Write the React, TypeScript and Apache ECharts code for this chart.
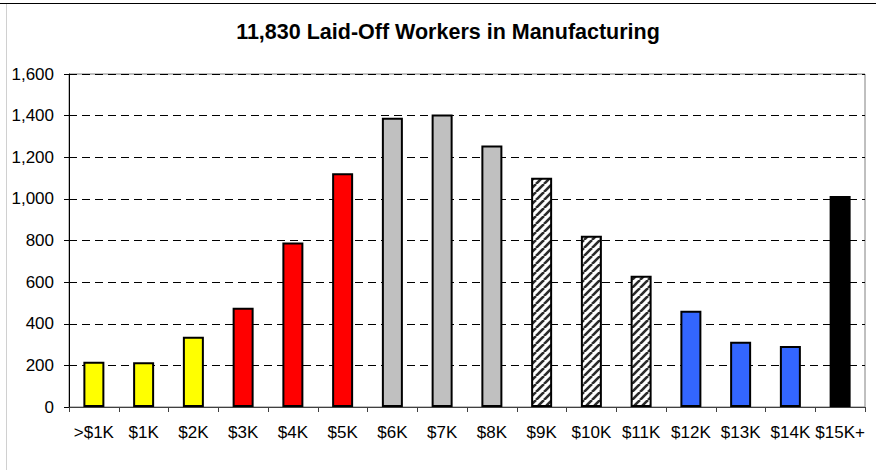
import React, { useEffect, useRef } from "react";
import * as echarts from "echarts";

const titleText = "11,830 Laid-Off Workers in Manufacturing";
const categories = [">$1K", "$1K", "$2K", "$3K", "$4K", "$5K", "$6K", "$7K", "$8K", "$9K", "$10K", "$11K", "$12K", "$13K", "$14K", "$15K+"];
const values = [218, 215, 338, 477, 790, 1123, 1390, 1406, 1256, 1102, 823, 631, 463, 314, 293, 1014];
const barFills = ["#FFFF00", "#FFFF00", "#FFFF00", "#FF0000", "#FF0000", "#FF0000", "#C0C0C0", "#C0C0C0", "#C0C0C0", "hatch", "hatch", "hatch", "#3366FF", "#3366FF", "#3366FF", "#000000"];
const yTicks = [0, 200, 400, 600, 800, 1000, 1200, 1400, 1600];

function makeHatch(): HTMLCanvasElement {
  const s = 8;
  const c = document.createElement("canvas");
  c.width = s;
  c.height = s;
  const ctx = c.getContext("2d")!;
  ctx.fillStyle = "#ffffff";
  ctx.fillRect(0, 0, s, s);
  ctx.strokeStyle = "#2a2a2a";
  ctx.lineWidth = 2.6;
  for (const k of [-s, 0, s]) {
    ctx.beginPath();
    ctx.moveTo(k, s);
    ctx.lineTo(k + s, 0);
    ctx.stroke();
  }
  return c;
}

export default function App() {
  const ref = useRef<HTMLDivElement>(null);
  useEffect(() => {
    if (!ref.current) return;
    const chart = echarts.init(ref.current, undefined, { renderer: "svg" });
    const hatch = makeHatch();
    const fmt = (v: number) => v.toLocaleString("en-US");
    chart.setOption({
      animation: false,
      backgroundColor: "#ffffff",
      textStyle: { fontFamily: "'Liberation Sans', Arial, sans-serif" },
      grid: {
        left: 69,
        right: 11,
        top: 74,
        bottom: 63,
        show: true,
        borderColor: "#808080",
        borderWidth: 1,
        backgroundColor: "transparent",
      },
      graphic: [
        {
          type: "text",
          x: 448,
          y: 32,
          style: {
            text: titleText,
            fill: "#000",
            font: "bold 21.5px 'Liberation Sans', Arial, sans-serif",
            textAlign: "center",
            textVerticalAlign: "middle",
          },
          silent: true,
        },
        {
          type: "line",
          shape: { x1: 0, y1: 3.5, x2: 876, y2: 3.5 },
          style: { stroke: "#000", lineWidth: 1 },
          silent: true,
        },
        {
          type: "line",
          shape: { x1: 6.5, y1: 4, x2: 6.5, y2: 470 },
          style: { stroke: "#d0d0d0", lineWidth: 1 },
          silent: true,
        },
      ],
      xAxis: {
        type: "category",
        data: categories,
        boundaryGap: true,
        axisLine: { show: true, lineStyle: { color: "#404040", width: 1 } },
        axisTick: { show: true, length: 5, lineStyle: { color: "#404040" } },
        axisLabel: { color: "#000", fontSize: 17, margin: 17, interval: 0 },
        splitLine: { show: false },
      },
      yAxis: {
        type: "value",
        min: yTicks[0],
        max: yTicks[yTicks.length - 1],
        interval: 200,
        axisLine: { show: true, lineStyle: { color: "#000", width: 1 } },
        axisTick: { show: true, length: 5, lineStyle: { color: "#000" } },
        axisLabel: { color: "#000", fontSize: 17, margin: 15, formatter: (v: number) => fmt(v) },
        splitLine: { show: true, lineStyle: { color: "#000", type: [8, 5], width: 1 } },
      },
      series: [
        {
          type: "bar",
          barWidth: 21,
          data: values.map((v, i) => ({
            value: v,
            itemStyle: {
              color: barFills[i] === "hatch" ? { image: hatch, repeat: "repeat" } : barFills[i],
              borderColor: "#000",
              borderWidth: 2,
            },
          })),
        },
      ],
    });
    return () => chart.dispose();
  }, []);
  return <div ref={ref} style={{ position: "absolute", left: 0, top: 0, width: 876, height: 470 }} />;
}
